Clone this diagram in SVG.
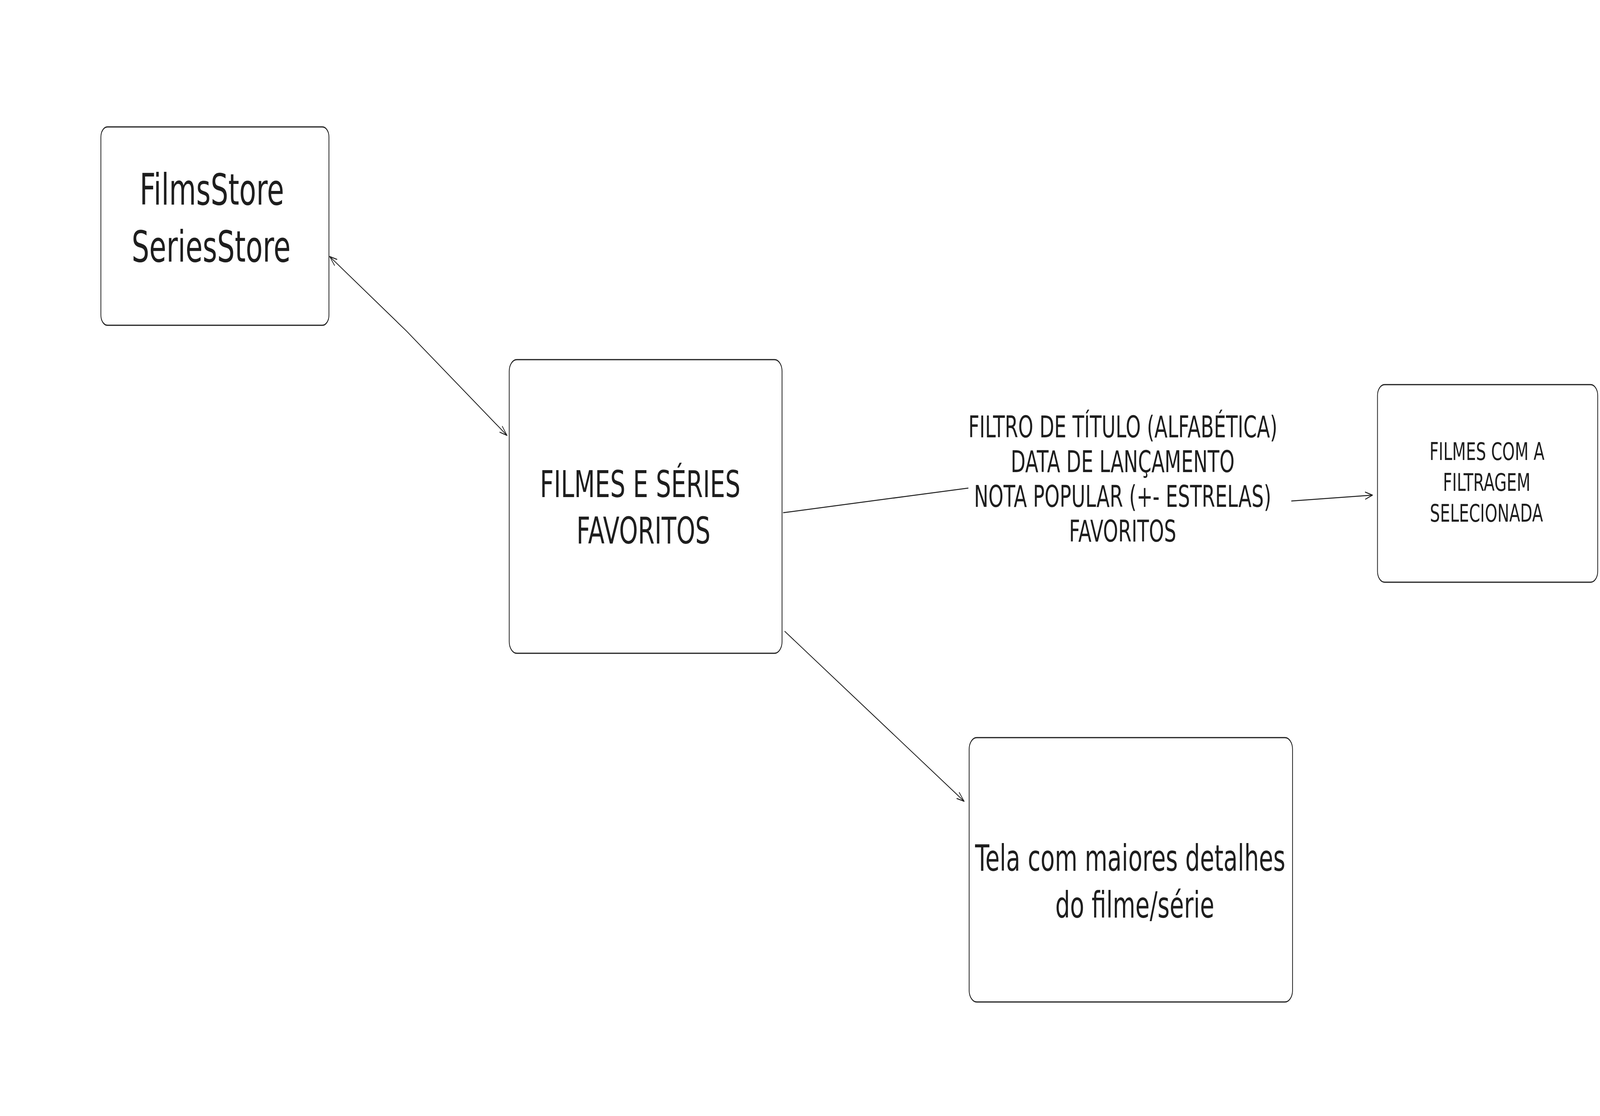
<svg xmlns="http://www.w3.org/2000/svg" width="6328" height="2858" viewBox="0 0 6328 2858" preserveAspectRatio="none">
  <style>
    svg:root { width: 100vw; height: 100vh; }
    .box { fill: #ffffff; stroke: #1e1e1e; stroke-width: 3; }
    .lbl { font-family: "DejaVu Sans", "Liberation Sans", sans-serif; fill: #1e1e1e; text-anchor: middle; }
    .conn { fill: none; stroke: #1e1e1e; stroke-width: 2.5; stroke-linecap: round; stroke-linejoin: round; }
  </style>
  <defs>
    <marker id="head" markerUnits="userSpaceOnUse" markerWidth="60" markerHeight="60" viewBox="-40 -30 60 60" refX="0" refY="0" orient="auto-start-reverse">
      <path d="M -28 -9 L 0 0 L -28 9" fill="none" stroke="#1e1e1e" stroke-width="2.5" stroke-linecap="round" stroke-linejoin="round"/>
    </marker>
  </defs>
  <rect x="0" y="0" width="6328" height="2858" fill="#ffffff"/>

  <g id="connectors">
    <path class="conn" d="M 1304 657 L 1608 848 L 2005 1115" marker-start="url(#head)" marker-end="url(#head)"/>
    <path class="conn" d="M 3098 1313 L 3829 1250"/>
    <path class="conn" d="M 5108 1283 L 5428 1268" marker-end="url(#head)"/>
    <path class="conn" d="M 3104 1617 L 3813 2052" marker-end="url(#head)"/>
  </g>

  <g id="stores">
    <rect class="box" x="399" y="325" width="902" height="508" rx="26" ry="26"/>
    <text class="lbl" x="838" y="524" font-size="110">FilmsStore</text>
    <text class="lbl" x="835" y="670" font-size="110">SeriesStore</text>
  </g>

  <g id="favoritos">
    <rect class="box" x="2014" y="921" width="1079" height="752" rx="30" ry="30"/>
    <text class="lbl" x="2532" y="1273" font-size="95">FILMES E SÉRIES</text>
    <text class="lbl" x="2545" y="1392" font-size="95">FAVORITOS</text>
  </g>

  <g id="filtro-label">
    <text class="lbl" x="4441" y="1120" font-size="76">FILTRO DE TÍTULO (ALFABÉTICA)</text>
    <text class="lbl" x="4440" y="1209" font-size="76">DATA DE LANÇAMENTO</text>
    <text class="lbl" x="4440" y="1298" font-size="76">NOTA POPULAR (+- ESTRELAS)</text>
    <text class="lbl" x="4440" y="1387" font-size="76">FAVORITOS</text>
  </g>

  <g id="filtrados">
    <rect class="box" x="5448" y="985" width="871" height="506" rx="28" ry="28"/>
    <text class="lbl" x="5881" y="1178" font-size="63">FILMES COM A</text>
    <text class="lbl" x="5880" y="1257" font-size="63">FILTRAGEM</text>
    <text class="lbl" x="5879" y="1336" font-size="63">SELECIONADA</text>
  </g>

  <g id="detalhes">
    <rect class="box" x="3833" y="1889" width="1279" height="677" rx="30" ry="30"/>
    <text class="lbl" x="4470" y="2230" font-size="92">Tela com maiores detalhes</text>
    <text class="lbl" x="4488" y="2350" font-size="92">do filme/série</text>
  </g>
</svg>
